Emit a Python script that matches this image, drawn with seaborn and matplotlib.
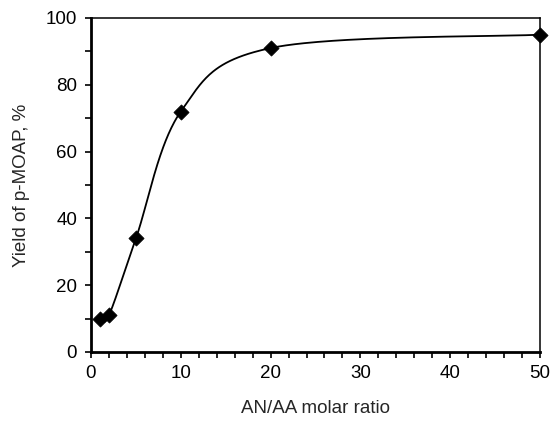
import numpy as np
import pandas as pd
import matplotlib
matplotlib.use("Agg")
import matplotlib.pyplot as plt
import seaborn as sns
from matplotlib.ticker import MultipleLocator

ratio = [1, 2, 5, 10, 20, 50]
yield_pct = [10, 11, 34, 72, 91, 95]
x_ticks = [0, 10, 20, 30, 40, 50]
y_ticks = [0, 20, 40, 60, 80, 100]
x_label = "AN/AA molar ratio"
y_label = "Yield of p-MOAP, %"

df = pd.DataFrame({"ratio": ratio, "yield": yield_pct})

sns.set_style("white")
plt.rcParams["font.family"] = ["Liberation Sans", "DejaVu Sans"]

fig = plt.figure(figsize=(5.52, 4.24), dpi=100)
ax = fig.add_axes([91 / 552, 72 / 424, 449 / 552, 334 / 424])
ax.set_xlim(0, 50)
ax.set_ylim(0, 100)

# Excel-style smoothed line (Bezier through data points, computed in screen space)
W, H = 449.0, 334.0
px = np.array(ratio, float) / 50 * W
py = np.array(yield_pct, float) / 100 * H
P = np.column_stack([px, py])
n = len(P)
segs = []
t = np.linspace(0, 1, 80)
for i in range(n - 1):
    p0 = P[i - 1] if i > 0 else P[i]
    p1 = P[i]
    p2 = P[i + 1]
    p3 = P[i + 2] if i + 2 < n else P[i + 1]
    c1 = p1 + (p2 - p0) / 6.0
    c2 = p2 - (p3 - p1) / 6.0
    b = ((1 - t) ** 3)[:, None] * p1 + (3 * (1 - t) ** 2 * t)[:, None] * c1 \
        + (3 * (1 - t) * t ** 2)[:, None] * c2 + (t ** 3)[:, None] * p2
    segs.append(b if i == 0 else b[1:])
curve = np.vstack(segs)
ax.plot(curve[:, 0] / W * 50, curve[:, 1] / H * 100, color="black", lw=1.3,
        clip_on=False, zorder=2)

sns.scatterplot(data=df, x="ratio", y="yield", marker="D", s=60, color="black",
                edgecolor="black", linewidth=0.5, ax=ax, zorder=3, clip_on=False)

ax.set_xticks(x_ticks)
ax.set_yticks(y_ticks)
ax.xaxis.set_minor_locator(MultipleLocator(2))
ax.yaxis.set_minor_locator(MultipleLocator(10))
ax.tick_params(axis="both", which="both", direction="out", length=4, width=1.2,
               color="black", labelsize=13.5, labelcolor="black")
ax.tick_params(axis="x", which="major", pad=5)
ax.tick_params(axis="y", which="major", pad=6)
ax.xaxis.set_ticks_position("bottom")
ax.yaxis.set_ticks_position("left")

for side in ["left", "bottom"]:
    ax.spines[side].set_linewidth(2.0)
for side in ["top", "right"]:
    ax.spines[side].set_linewidth(1.1)
for s in ax.spines.values():
    s.set_color("black")
    s.set_visible(True)

ax.set_xlabel(x_label, fontsize=13.5, labelpad=13)
ax.set_ylabel(y_label, fontsize=13.5, labelpad=11)

fig.savefig("out.png", dpi=100, facecolor="white")
